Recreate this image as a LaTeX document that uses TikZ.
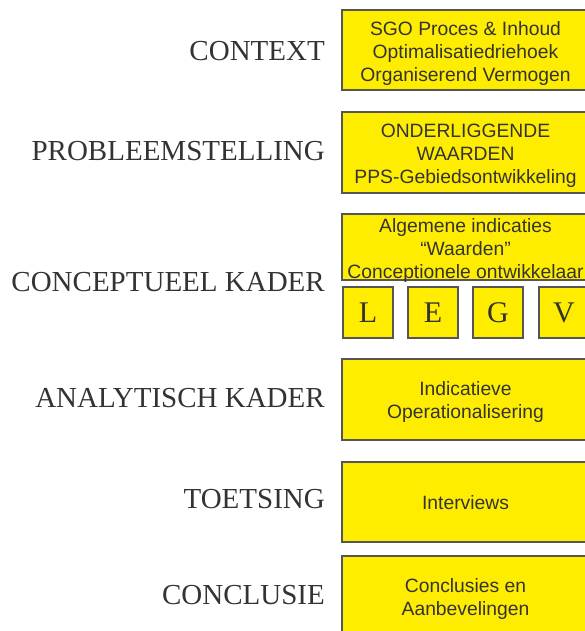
\documentclass[tikz,border=0pt]{standalone}
\usepackage{fontspec}
\setmainfont{Liberation Serif}
\newfontfamily\boxfont{Liberation Sans}
\definecolor{boxyellow}{HTML}{FFED00}
\definecolor{boxline}{HTML}{555555}
\definecolor{txt}{HTML}{333333}
\tikzset{
  stagebox/.style={draw=boxline, line width=1.4pt, fill=boxyellow, anchor=north west,
    inner sep=0pt, outer sep=0pt, minimum width=247pt},
  boxtext/.style={inner sep=0pt, text=txt, align=center,
    font=\boxfont\fontsize{19.3}{23}\selectfont},
  letterbox/.style={draw=boxline, line width=1.4pt, fill=boxyellow, anchor=north west,
    inner sep=0pt, outer sep=0pt, text=txt, minimum width=50pt, minimum height=51pt,
    font=\fontsize{30}{31}\selectfont},
  stagelabel/.style={anchor=east, text=txt, inner sep=0pt, font=\fontsize{29}{30}\selectfont}
}
\begin{document}
\begin{tikzpicture}[x=1pt,y=-1pt]
\useasboundingbox (0,0) rectangle (585,631);
\clip (0,0) rectangle (585,631);
% boxes
\node[stagebox, minimum height=80pt] (b1) at (342,10) {};
\node[boxtext] (b1t) at ([yshift=-3.5pt]b1.center)
  {SGO Proces \& Inhoud\\Optimalisatiedriehoek\\Organiserend Vermogen};
\node[stagebox, minimum height=81pt] (b2) at (342,112) {};
\node[boxtext] (b2t) at ([yshift=-3.5pt]b2.center)
  {ONDERLIGGENDE\\WAARDEN\\PPS-Gebiedsontwikkeling};
\node[stagebox, minimum height=66pt] (b3) at (342,214) {};
\node[boxtext] (b3t) at ([yshift=-4pt]b3.center)
  {Algemene indicaties\\“Waarden”\\Conceptionele ontwikkelaar};
\node[letterbox] (l) at (343,287) {L};
\node[letterbox] (e) at (408,287) {E};
\node[letterbox] (g) at (473,287) {G};
\node[letterbox] (v) at (539,287) {V};
\node[stagebox, minimum height=81pt] (b4) at (342,359) {};
\node[boxtext] (b4t) at ([yshift=-2.5pt]b4.center)
  {Indicatieve\\Operationalisering};
\node[stagebox, minimum height=80pt] (b5) at (342,462) {};
\node[boxtext] (b5t) at ([yshift=-0.5pt]b5.center) {Interviews};
\node[stagebox, minimum height=80pt] (b6) at (342,556) {};
\node[boxtext] (b6t) at ([yshift=-3pt]b6.center)
  {Conclusies en\\Aanbevelingen};
% labels
\node[stagelabel] (t1) at (325,51) {CONTEXT};
\node[stagelabel] (t2) at (325,151) {PROBLEEMSTELLING};
\node[stagelabel] (t3) at (325,282) {CONCEPTUEEL KADER};
\node[stagelabel] (t4) at (325,398) {ANALYTISCH KADER};
\node[stagelabel] (t5) at (325,499) {TOETSING};
\node[stagelabel] (t6) at (325,595) {CONCLUSIE};
\end{tikzpicture}
\end{document}
